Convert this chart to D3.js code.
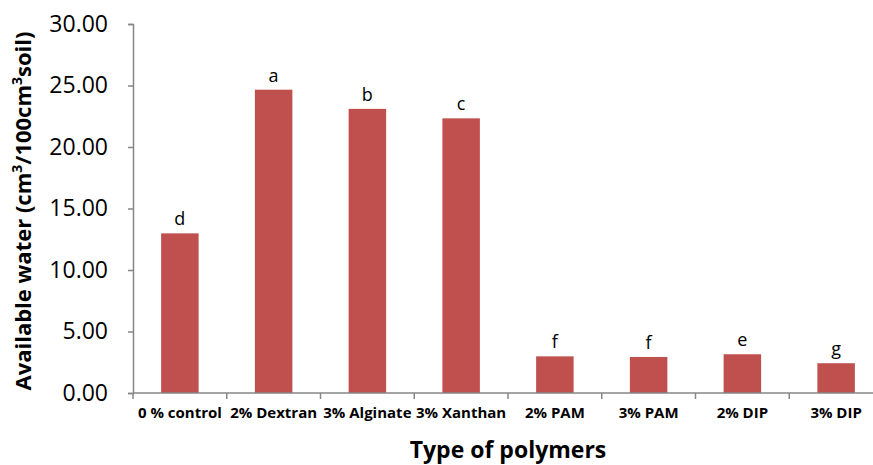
<!DOCTYPE html>
<html>
<head>
<meta charset="utf-8">
<script src="https://cdn.jsdelivr.net/npm/d3@7"></script>
<style>
  html, body { margin: 0; padding: 0; background: #fff; overflow: hidden; }
  svg { display: block; }
  text { font-family: "Open Sans", sans-serif; fill: #000; }
</style>
</head>
<body>
<svg id="chart" width="873" height="465"></svg>
<script>
const categories = ["0 % control", "2% Dextran", "3% Alginate", "3% Xanthan", "2% PAM", "3% PAM", "2% DIP", "3% DIP"];
const values = [12.98, 24.66, 23.10, 22.33, 2.98, 2.93, 3.15, 2.42];
const letters = ["d", "a", "b", "c", "f", "f", "e", "g"];
const yTicks = [0, 5, 10, 15, 20, 25, 30];

const svg = d3.select("#chart");
const x = d3.scaleBand().domain(categories).range([133, 883]).paddingInner(0.6).paddingOuter(0.3);
const y = d3.scaleLinear().domain([0, 30]).range([393, 24]);
const axisColor = "#868686";

// Y axis
const yAxis = svg.append("g").attr("transform", "translate(133,0)")
  .call(d3.axisLeft(y).tickValues(yTicks).tickFormat(d3.format(".2f")).tickSize(5).tickPadding(20));
yAxis.select(".domain").attr("stroke", axisColor).attr("stroke-width", 1.5);
yAxis.selectAll(".tick line").attr("stroke", axisColor).attr("stroke-width", 1.5);
yAxis.selectAll(".tick text").attr("font-size", 23).attr("font-family", "Open Sans").attr("fill", "#000");

// Bars
svg.append("g").selectAll("rect").data(categories).join("rect")
  .attr("x", d => x(d))
  .attr("width", x.bandwidth())
  .attr("y", (d, i) => y(values[i]))
  .attr("height", (d, i) => y(0) - y(values[i]))
  .attr("fill", "#C0504D");

// X axis
const step = x.step();
const xAxisG = svg.append("g").attr("transform", "translate(0,393)");
xAxisG.append("line").attr("x1", 133).attr("x2", 883).attr("y1", 0).attr("y2", 0)
  .attr("stroke", axisColor).attr("stroke-width", 1.5);
xAxisG.selectAll("line.tk").data(d3.range(categories.length + 1)).join("line")
  .attr("class", "tk")
  .attr("x1", i => 133 + i * step).attr("x2", i => 133 + i * step)
  .attr("y1", 0).attr("y2", 6)
  .attr("stroke", axisColor).attr("stroke-width", 1.5);
xAxisG.selectAll("text").data(categories).join("text")
  .attr("x", d => x(d) + x.bandwidth() / 2)
  .attr("y", 25)
  .attr("text-anchor", "middle")
  .attr("font-size", 15)
  .attr("font-weight", "bold")
  .text(d => d);

// Significance letters
svg.append("g").selectAll("text").data(categories).join("text")
  .attr("x", d => x(d) + x.bandwidth() / 2)
  .attr("y", (d, i) => y(values[i]) - 8)
  .attr("text-anchor", "middle")
  .attr("font-size", 18)
  .text((d, i) => letters[i]);

// Axis titles
svg.append("text")
  .attr("x", 508).attr("y", 458)
  .attr("text-anchor", "middle")
  .attr("font-size", 23)
  .attr("font-weight", "bold")
  .text("Type of polymers");

const yt = svg.append("text")
  .attr("transform", "translate(31,211) rotate(-90)")
  .attr("text-anchor", "middle")
  .attr("font-size", 22)
  .attr("font-weight", "bold");
yt.append("tspan").text("Available water (cm");
yt.append("tspan").attr("baseline-shift", "super").attr("font-size", 14).text("3");
yt.append("tspan").text("/100cm");
yt.append("tspan").attr("baseline-shift", "super").attr("font-size", 14).text("3");
yt.append("tspan").text("soil)");
</script>
</body>
</html>
